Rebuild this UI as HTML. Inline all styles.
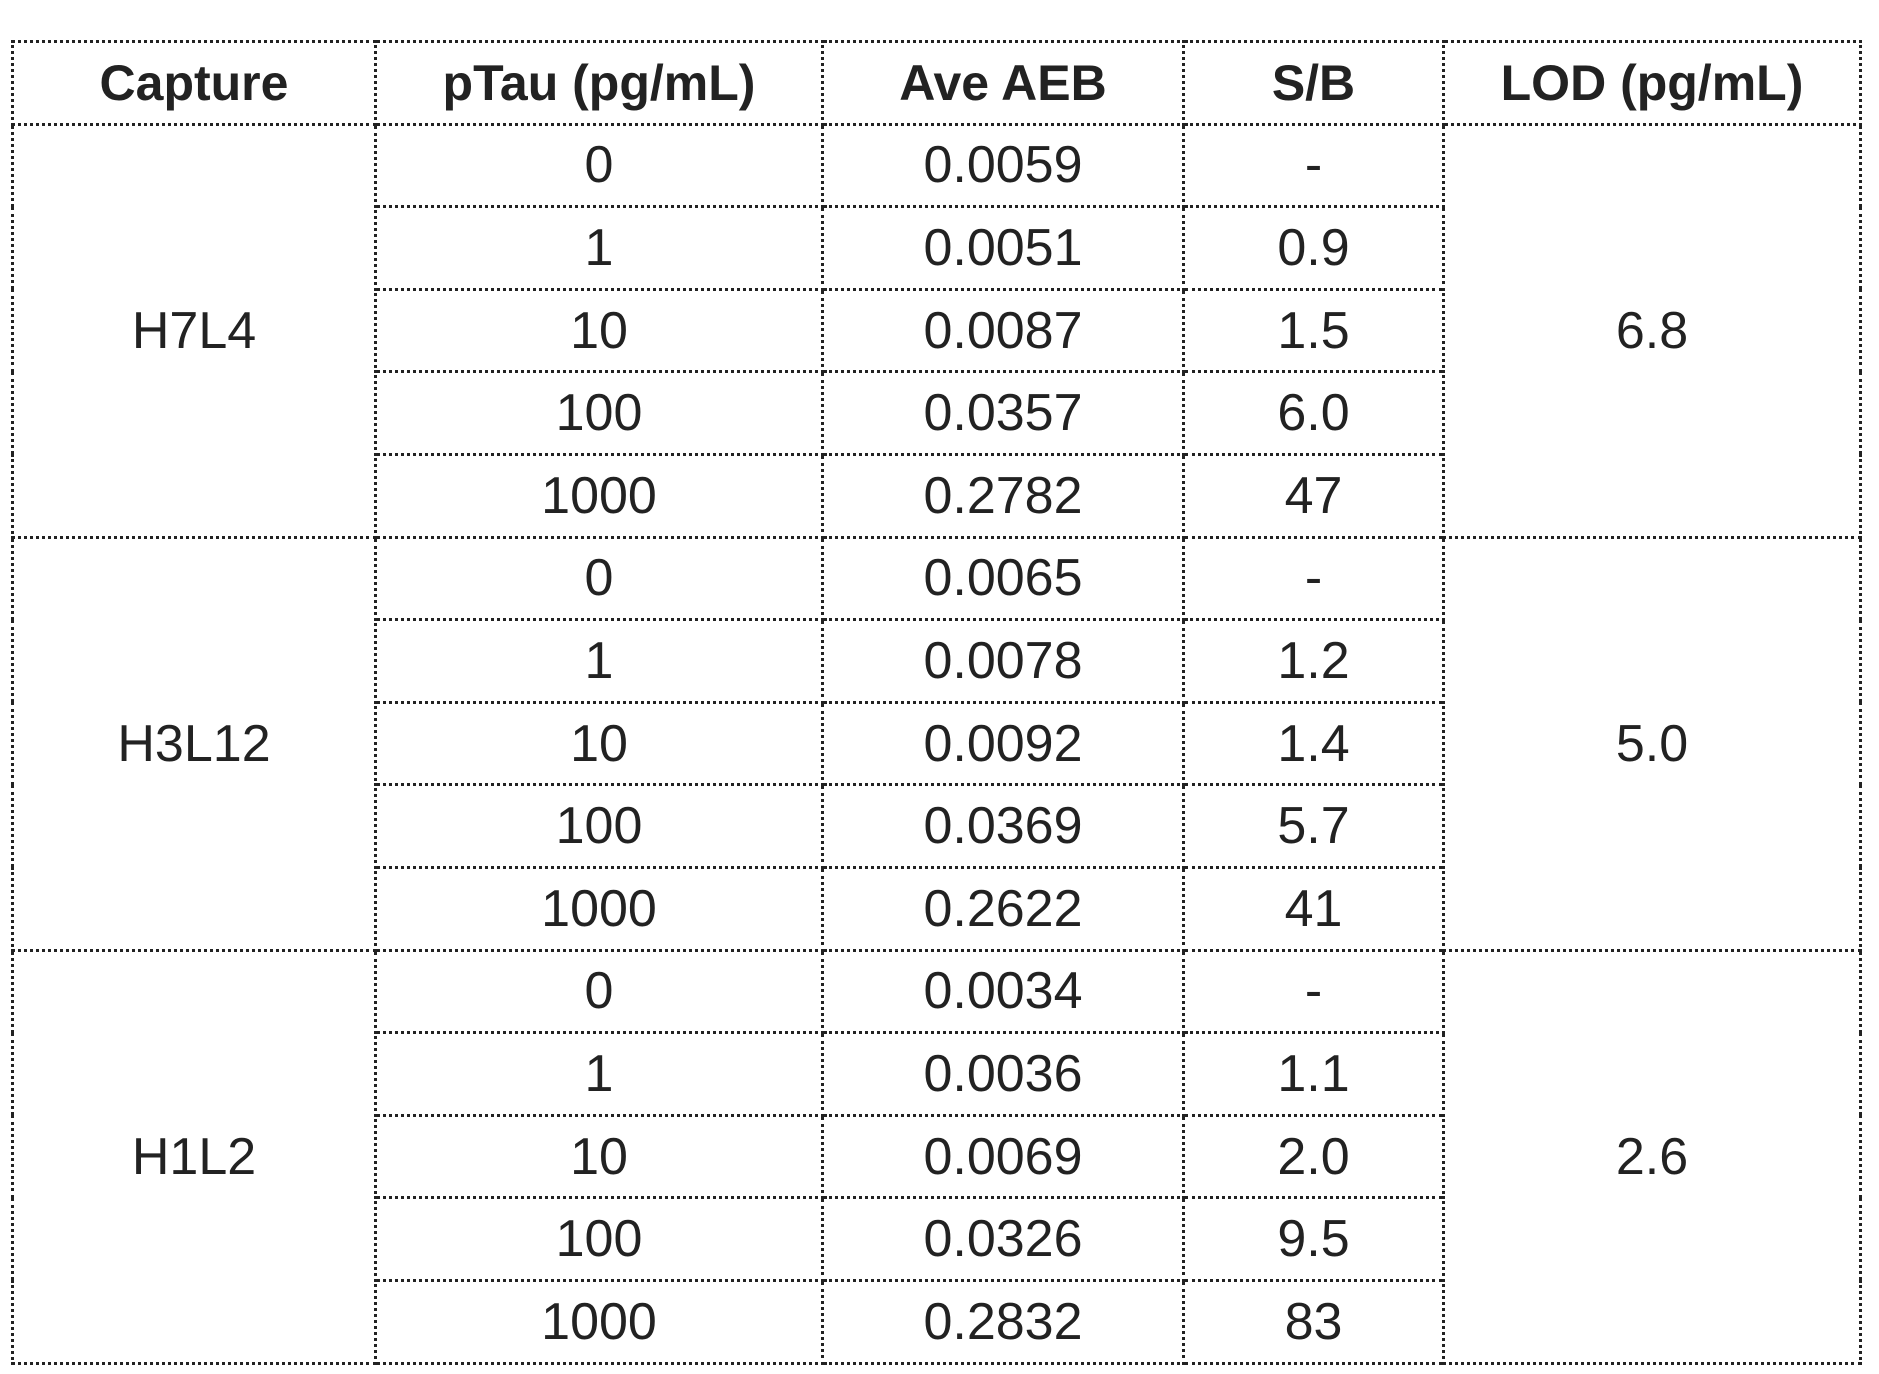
<!DOCTYPE html>
<html><head><meta charset="utf-8"><style>
html,body{margin:0;padding:0;background:#fff;width:1879px;height:1374px;overflow:hidden}
table{position:absolute;left:11px;top:40px;border-collapse:collapse;font-family:"Liberation Sans",sans-serif;color:#222}
td,th{border:3px dotted #222;text-align:center;padding:0;height:79.6px;font-size:52px}
th{font-weight:bold;font-size:50px;height:79.6px}
</style></head><body>
<table>
<colgroup><col style="width:363px"><col style="width:447px"><col style="width:361px"><col style="width:260px"><col style="width:417px"></colgroup>
<tr><th>Capture</th><th>pTau (pg/mL)</th><th>Ave AEB</th><th>S/B</th><th>LOD (pg/mL)</th></tr>
<tr><td rowspan="5">H7L4</td><td>0</td><td>0.0059</td><td>-</td><td rowspan="5">6.8</td></tr>
<tr><td>1</td><td>0.0051</td><td>0.9</td></tr>
<tr><td>10</td><td>0.0087</td><td>1.5</td></tr>
<tr><td>100</td><td>0.0357</td><td>6.0</td></tr>
<tr><td>1000</td><td>0.2782</td><td>47</td></tr>
<tr><td rowspan="5">H3L12</td><td>0</td><td>0.0065</td><td>-</td><td rowspan="5">5.0</td></tr>
<tr><td>1</td><td>0.0078</td><td>1.2</td></tr>
<tr><td>10</td><td>0.0092</td><td>1.4</td></tr>
<tr><td>100</td><td>0.0369</td><td>5.7</td></tr>
<tr><td>1000</td><td>0.2622</td><td>41</td></tr>
<tr><td rowspan="5">H1L2</td><td>0</td><td>0.0034</td><td>-</td><td rowspan="5">2.6</td></tr>
<tr><td>1</td><td>0.0036</td><td>1.1</td></tr>
<tr><td>10</td><td>0.0069</td><td>2.0</td></tr>
<tr><td>100</td><td>0.0326</td><td>9.5</td></tr>
<tr><td>1000</td><td>0.2832</td><td>83</td></tr>
</table>
</body></html>
